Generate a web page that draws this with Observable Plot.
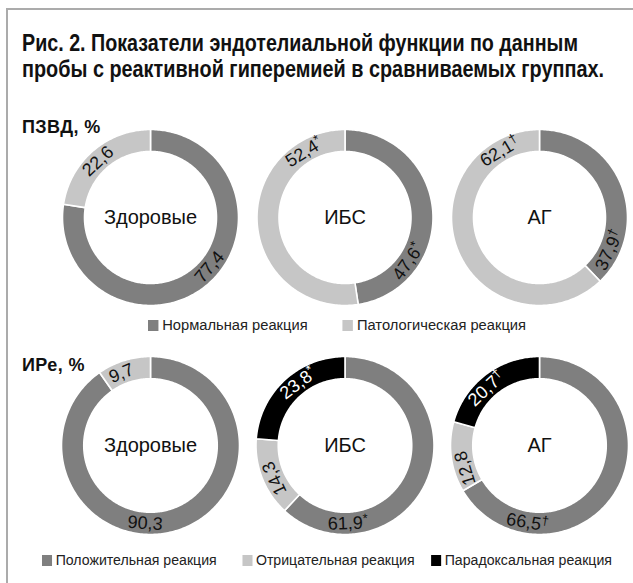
<!DOCTYPE html>
<html><head><meta charset="utf-8">
<script src="https://cdn.jsdelivr.net/npm/d3@7"></script>
<script src="https://cdn.jsdelivr.net/npm/@observablehq/plot@0.6"></script>
<style>
html,body{margin:0;padding:0;background:#fff;}
body{width:633px;height:583px;position:relative;overflow:hidden;font-family:"Liberation Sans",Arial,sans-serif;color:#111;}
#frame{position:absolute;left:6px;top:8px;width:660px;height:640px;border-left:2px solid #ababab;border-top:2px solid #ababab;}
.tline{position:absolute;left:22px;font-family:"Liberation Sans",Arial,sans-serif;font-weight:bold;font-size:23px;line-height:26px;white-space:nowrap;transform-origin:0 0;}
.rowlabel{position:absolute;left:22px;font-weight:bold;font-size:18px;line-height:20px;letter-spacing:0.4px;white-space:nowrap;}
.chart{position:absolute;left:0;}
.legend{position:absolute;line-height:18px;display:flex;align-items:center;white-space:nowrap;color:#222;font-size:15.5px;transform-origin:0 50%;}
.sw{display:inline-block;width:11px;height:11px;margin-right:4px;}
.item{display:flex;align-items:center;}
</style></head><body>
<div id="frame"></div>
<div class="tline" id="t1" style="top:30px" data-w="556">Рис. 2. Показатели эндотелиальной функции по данным</div>
<div class="tline" id="t2" style="top:56px" data-w="582">пробы с реактивной гиперемией в сравниваемых группах.</div>
<div class="rowlabel" style="top:117px">ПЗВД, %</div>
<div class="chart" id="row1" style="top:117px"></div>
<div class="legend" id="leg1" style="left:148px;top:316px" data-w="378"></div>
<div class="rowlabel" style="top:355px">ИРе, %</div>
<div class="chart" id="row2" style="top:345px"></div>
<div class="legend" id="leg2" style="left:42px;top:551px" data-w="570"></div>
<script>
// ---- data ----
const groups = ["Здоровые", "ИБС", "АГ"];

const pzvdCategories = ["Нормальная реакция", "Патологическая реакция"];
const pzvdValues = [[77.4, 22.6], [47.6, 52.4], [37.9, 62.1]];
const pzvdLabels = [["77,4", "22,6"], ["47,6*", "52,4*"], ["37,9†", "62,1†"]];

const ireCategories = ["Положительная реакция", "Отрицательная реакция", "Парадоксальная реакция"];
const ireValues = [[90.3, 9.7, 0], [61.9, 14.3, 23.8], [66.5, 12.8, 20.7]];
const ireLabels = [["90,3", "9,7", ""], ["61,9*", "14,3", "23,8*"], ["66,5†", "12,8", "20,7†"]];

// ---- layout / style (not data) ----
const pzvdColors = ["#7f7f7f", "#c6c6c6"];
const ireColors = ["#7f7f7f", "#c6c6c6", "#000000"];
const pzvdLabelAngles = [[130, 317], [125, 328], [115, 329]];   // degrees clockwise from top
const ireLabelAngles = [[184, 338, null], [178, 245, 323], [189, 253, 317]];
const W = 633, H = 200, CX0 = 150, GAP_PX = 194.5, INNER = 0.75;

function fitWidth(el) {
  const w = el.getBoundingClientRect().width;
  el.style.transform = `scaleX(${(+el.dataset.w) / w})`;
}
document.querySelectorAll(".tline").forEach(fitWidth);

function donutRow(el, values, labels, cats, colors, angles, PX) {
  const GAP = GAP_PX / PX;
  const segs = [], texts = [];
  values.forEach((vals, gi) => {
    let acc = 0;
    vals.forEach((v, ci) => {
      if (!v) return;
      const a0 = acc / 100 * 2 * Math.PI, a1 = (acc + v) / 100 * 2 * Math.PI;
      acc += v;
      const n = Math.max(2, Math.ceil((a1 - a0) / (Math.PI / 180)));
      const id = gi + "-" + ci;
      for (let k = 0; k <= n; k++) { const a = a0 + (a1 - a0) * k / n; segs.push({id, cat: cats[ci], x: gi * GAP + Math.sin(a), y: Math.cos(a)}); }
      for (let k = n; k >= 0; k--) { const a = a0 + (a1 - a0) * k / n; segs.push({id, cat: cats[ci], x: gi * GAP + INNER * Math.sin(a), y: INNER * Math.cos(a)}); }
      const th = angles[gi][ci];
      if (th != null && labels[gi][ci]) {
        const t = th * Math.PI / 180, lr = (1 + INNER) / 2;
        texts.push({
          x: gi * GAP + lr * Math.sin(t), y: lr * Math.cos(t),
          rotate: (th > 90 && th < 200) ? th - 180 : th,
          text: labels[gi][ci], dark: colors[ci] === "#000000"
        });
      }
    });
  });
  const plot = Plot.plot({
    width: W, height: H, margin: 0,
    x: {domain: [-CX0 / PX, (W - CX0) / PX], axis: null},
    y: {domain: [-H / 2 / PX, H / 2 / PX], axis: null},
    color: {type: "ordinal", domain: cats, range: colors},
    style: {fontFamily: "'Liberation Sans', Arial, sans-serif", fontSize: "18px", background: "transparent", overflow: "visible"},
    marks: [
      Plot.line(segs, {x: "x", y: "y", z: "id", fill: "cat", stroke: "white", strokeWidth: 1.6, curve: "linear-closed"}),
      Plot.text(texts.filter(d => !d.dark), {x: "x", y: "y", text: "text", rotate: "rotate", fill: "#111", fontSize: 18}),
      Plot.text(texts.filter(d => d.dark), {x: "x", y: "y", text: "text", rotate: "rotate", fill: "white", fontSize: 18}),
      Plot.text(groups, {x: (d, i) => i * GAP, y: 0, text: d => d, fontSize: 20, fill: "#111"})
    ]
  });
  // superscript marks
  plot.querySelectorAll("text").forEach(t => {
    const s = t.textContent;
    const m = s.match(/^(.*?)([*†])$/);
    if (m) {
      t.textContent = "";
      const a = document.createElementNS("http://www.w3.org/2000/svg", "tspan"); a.textContent = m[1];
      const b = document.createElementNS("http://www.w3.org/2000/svg", "tspan"); b.textContent = m[2];
      b.setAttribute("font-size", "13"); b.setAttribute("dy", "-0.45em");
      t.appendChild(a); t.appendChild(b);
    }
  });
  document.getElementById(el).appendChild(plot);
}

function legend(el, cats, colors, gaps) {
  const box = document.getElementById(el);
  cats.forEach((c, i) => {
    const it = document.createElement("div"); it.className = "item";
    if (i > 0) it.style.marginLeft = gaps[i - 1] + "px";
    it.innerHTML = `<span class="sw" style="background:${colors[i]}"></span><span>${c}</span>`;
    box.appendChild(it);
  });
  fitWidth(box);
}

donutRow("row1", pzvdValues, pzvdLabels, pzvdCategories, pzvdColors, pzvdLabelAngles, 88);
donutRow("row2", ireValues, ireLabels, ireCategories, ireColors, ireLabelAngles, 89);
legend("leg1", pzvdCategories, pzvdColors, [37]);
legend("leg2", ireCategories, ireColors, [28, 18]);
</script>
</body></html>
